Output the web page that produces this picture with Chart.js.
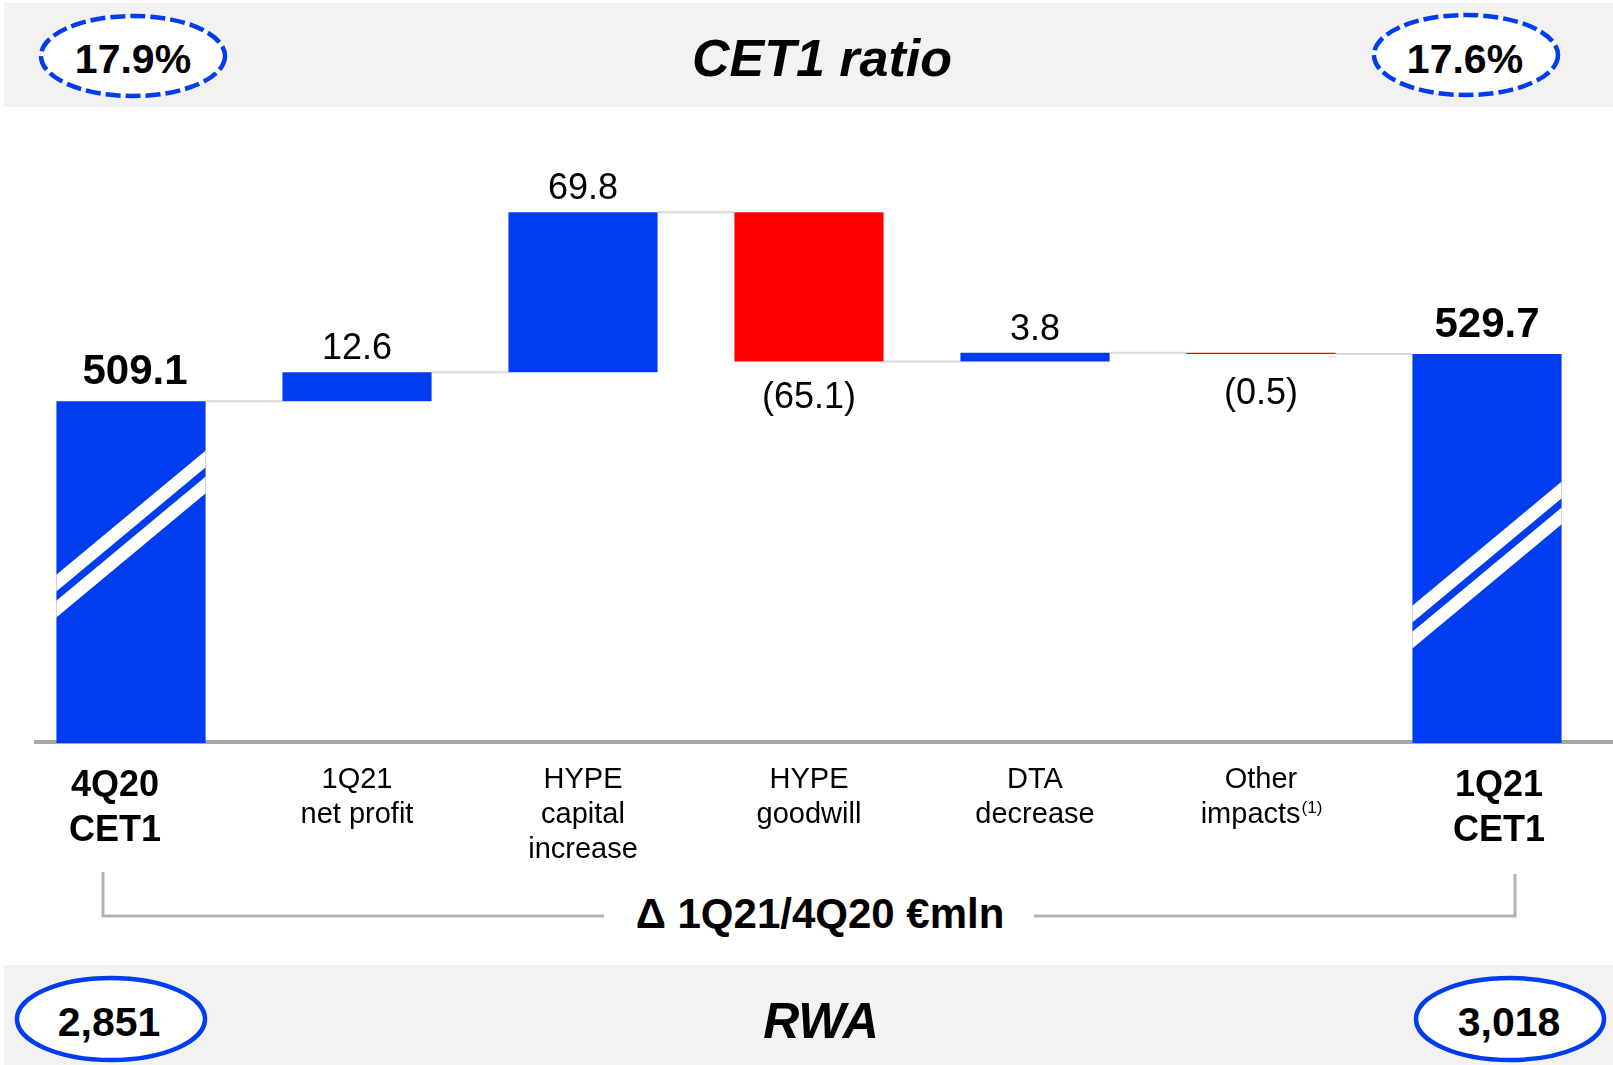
<!DOCTYPE html>
<html>
<head>
<meta charset="utf-8">
<script src="https://cdn.jsdelivr.net/npm/chart.js@4/dist/chart.umd.min.js"></script>
<style>
  body { margin: 0; background: #fff; }
  #page { position: relative; width: 1613px; height: 1065px; overflow: hidden; font-family: "Liberation Sans", Arial, sans-serif; }
  #deco { position: absolute; left: 0; top: 0; }
  #chart { position: absolute; left: 0; top: 0; }
</style>
</head>
<body>
<div id="page">
  <svg id="deco" width="1613" height="1065" xmlns="http://www.w3.org/2000/svg">
    <rect x="4" y="3" width="1609" height="104" fill="#f2f2f2"/>
    <rect x="4" y="965" width="1609" height="100" fill="#f2f2f2"/>
    <ellipse cx="133" cy="56" rx="92" ry="40" fill="#fff" stroke="#003cf0" stroke-width="4.5" stroke-dasharray="15 5"/>
    <ellipse cx="1466" cy="55" rx="92" ry="40" fill="#fff" stroke="#003cf0" stroke-width="4.5" stroke-dasharray="15 5"/>
    <ellipse cx="111" cy="1019" rx="94" ry="41" fill="#fff" stroke="#003cf0" stroke-width="4.5"/>
    <ellipse cx="1510" cy="1019" rx="94" ry="41" fill="#fff" stroke="#003cf0" stroke-width="4.5"/>
    <path d="M103 872 V916 H604 M1034 916 H1515 V874" fill="none" stroke="#b3b3b3" stroke-width="3"/>
    <g font-family="Liberation Sans, Arial, sans-serif" font-weight="bold" text-anchor="middle" fill="#000">
      <text id="ratioL" x="133" y="73" font-size="41"></text>
      <text id="ratioR" x="1465" y="73" font-size="41"></text>
      <text x="822" y="76" font-size="52" font-style="italic">CET1 ratio</text>
      <text id="rwaL" x="109" y="1036" font-size="41"></text>
      <text id="rwaR" x="1509" y="1036" font-size="41"></text>
      <text x="821" y="1038" font-size="50" font-style="italic">RWA</text>
      <text x="820" y="928" font-size="42">Δ 1Q21/4Q20 €mln</text>
    </g>
  </svg>
  <canvas id="chart" width="1613" height="1065"></canvas>
</div>
<script>
// dati del grafico
const categories = [['4Q20', 'CET1'], ['1Q21', 'net profit'], ['HYPE', 'capital', 'increase'], ['HYPE', 'goodwill'], ['DTA', 'decrease'], ['Other', 'impacts'], ['1Q21', 'CET1']];
const footnotes = ['', '', '', '', '', '(1)', ''];
const startValue = 509.1;
const changes = [12.6, 69.8, -65.1, 3.8, -0.5];
const endValue = 529.7;
const cet1Ratio = ['17.9%', '17.6%'];
const rwa = ['2,851', '3,018'];

document.getElementById('ratioL').textContent = cet1Ratio[0];
document.getElementById('ratioR').textContent = cet1Ratio[1];
document.getElementById('rwaL').textContent = rwa[0];
document.getElementById('rwaR').textContent = rwa[1];

const BLUE = '#003cf0';
const RED = '#ff0000';
const FONT = '"Liberation Sans", Arial, sans-serif';

// barre flottanti: totale iniziale, variazioni, totale finale
const ranges = [[0, startValue]];
const levels = [startValue];
let running = startValue;
changes.forEach(c => {
    ranges.push([running, running + c]);
    running += c;
    levels.push(running);
});
ranges.push([0, endValue]);
levels.push(endValue);

const colors = [BLUE].concat(changes.map(c => c < 0 ? RED : BLUE)).concat([BLUE]);
const fmt = v => v < 0 ? '(' + Math.abs(v).toFixed(1) + ')' : v.toFixed(1);
const valueLabels = [fmt(startValue)].concat(changes.map(fmt)).concat([fmt(endValue)]);
const isTotal = i => i === 0 || i === categories.length - 1;

// segni di interruzione sulle barre dei totali (distanza dal fondo, px)
const breakMarks = { 0: { left: 160, right: 284 }, 6: { left: 129, right: 253 } };
// piccoli spostamenti orizzontali delle etichette in grassetto
const boldShift = { 0: -16, 6: 12 };

const waterfallPlugin = {
    id: 'waterfall',
    beforeDatasetsDraw(chart) {
        const ctx = chart.ctx;
        const area = chart.chartArea;
        const meta = chart.getDatasetMeta(0);
        const y = chart.scales.y;
        ctx.save();
        ctx.strokeStyle = '#a6a6a6';
        ctx.lineWidth = 4;
        ctx.beginPath();
        ctx.moveTo(34, area.bottom - 1);
        ctx.lineTo(chart.width, area.bottom - 1);
        ctx.stroke();

        ctx.strokeStyle = '#d9d9d9';
        ctx.lineWidth = 2;
        for (let i = 0; i < meta.data.length - 1; i++) {
            const a = meta.data[i].getProps(['x', 'width'], true);
            const b = meta.data[i + 1].getProps(['x', 'width'], true);
            const py = y.getPixelForValue(levels[i]);
            ctx.beginPath();
            ctx.moveTo(a.x + a.width / 2, py);
            ctx.lineTo(b.x - b.width / 2, py);
            ctx.stroke();
        }
        ctx.restore();
    },
    afterDatasetsDraw(chart) {
        const ctx = chart.ctx;
        const area = chart.chartArea;
        const meta = chart.getDatasetMeta(0);
        meta.data.forEach((bar, i) => {
            const p = bar.getProps(['x', 'y', 'base', 'width'], true);
            const top = Math.max(Math.min(p.y, p.base), area.top);
            const bottom = Math.min(Math.max(p.y, p.base), area.bottom);
            const x0 = p.x - p.width / 2, x1 = p.x + p.width / 2;

            const mark = breakMarks[i];
            if (mark) {
                ctx.save();
                ctx.beginPath();
                ctx.rect(x0, top, p.width, bottom - top);
                ctx.clip();
                ctx.strokeStyle = '#fff';
                ctx.lineWidth = 13;
                [0, 26].forEach(d => {
                    const yl = area.bottom - mark.left + d;
                    const yr = area.bottom - mark.right + d;
                    const s = (yr - yl) / p.width;
                    ctx.beginPath();
                    ctx.moveTo(x0 - 20, yl - s * 20);
                    ctx.lineTo(x1 + 20, yr + s * 20);
                    ctx.stroke();
                });
                ctx.restore();
            }

            ctx.save();
            ctx.fillStyle = '#000';
            ctx.textAlign = 'center';
            ctx.textBaseline = 'alphabetic';
            if (isTotal(i)) {
                ctx.font = 'bold 42px ' + FONT;
                ctx.fillText(valueLabels[i], p.x + (i === 0 ? 4 : 0), top - 17);
            } else if (changes[i - 1] < 0) {
                ctx.font = '36px ' + FONT;
                ctx.fillText(valueLabels[i], p.x, Math.max(bottom + 46, 404));
            } else {
                ctx.font = '36px ' + FONT;
                ctx.fillText(valueLabels[i], p.x, top - 13);
            }
            ctx.restore();
        });
    },
    afterDraw(chart) {
        const ctx = chart.ctx;
        const x = chart.scales.x;
        ctx.save();
        ctx.fillStyle = '#000';
        ctx.textBaseline = 'alphabetic';
        categories.forEach((lines, i) => {
            const bold = isTotal(i);
            const cx = x.getPixelForValue(i) + (bold ? boldShift[i] : 0);
            const lh = bold ? 45 : 35;
            const y0 = bold ? 796 : 788;
            ctx.font = (bold ? 'bold 36px ' : '29px ') + FONT;
            lines.forEach((t, j) => {
                const by = y0 + j * lh;
                const last = j === lines.length - 1;
                if (last && footnotes[i]) {
                    ctx.font = '29px ' + FONT;
                    const w1 = ctx.measureText(t).width;
                    ctx.font = '17px ' + FONT;
                    const w2 = ctx.measureText(footnotes[i]).width;
                    const sx = cx - (w1 + w2) / 2;
                    ctx.textAlign = 'left';
                    ctx.font = '29px ' + FONT;
                    ctx.fillText(t, sx, by);
                    ctx.font = '17px ' + FONT;
                    ctx.fillText(footnotes[i], sx + w1 + 1, by - 10);
                } else {
                    ctx.textAlign = 'center';
                    ctx.fillText(t, cx, by);
                }
            });
        });
        ctx.restore();
    }
};

const config = {
    type: 'bar',
    data: {
        labels: categories,
        datasets: [{
            data: ranges,
            backgroundColor: colors,
            borderWidth: 0,
            categoryPercentage: 1,
            barPercentage: 0.66,
            clip: 0
        }]
    },
    options: {
        responsive: false,
        animation: false,
        layout: { padding: { left: 18, right: 13, top: 147, bottom: 322 } },
        plugins: { legend: { display: false }, tooltip: { enabled: false } },
        scales: {
            x: { display: false },
            y: { display: false, min: 360, max: 620 }
        }
    },
    plugins: [waterfallPlugin]
};

const chart = new Chart(document.getElementById('chart'), config);
</script>
</body>
</html>
